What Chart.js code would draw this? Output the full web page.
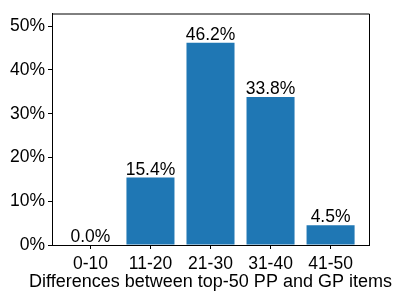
<!DOCTYPE html>
<html>
<head>
<meta charset="utf-8">
<script src="https://cdn.jsdelivr.net/npm/chart.js@4"></script>
<style>
  html, body { margin: 0; padding: 0; background: #fff; }
  #wrap { width: 399px; height: 299px; }
</style>
</head>
<body>
<div id="wrap"><canvas id="chart" width="399" height="299"></canvas></div>
<script>
// chart data
const categories = ["0-10", "11-20", "21-30", "31-40", "41-50"];
const shares = [0.0, 15.4, 46.2, 33.8, 4.5];
const yTicks = [0, 10, 20, 30, 40, 50];
const xTitle = "Differences between top-50 PP and GP items";

const FONT = "'Liberation Sans', Arial, sans-serif";
const BLUE = "#1f77b4";

// value labels above bars, top/right spines, and the x title
// (chart.js squeezes scale titles to the axis width, this one is wider)
const extras = {
    id: "extras",
    afterDatasetsDraw(chart) {
        let ctx = chart.ctx;
        let meta = chart.getDatasetMeta(0);
        let a = chart.chartArea;
        ctx.save();
        ctx.fillStyle = "#000";
        ctx.font = "17.5px " + FONT;
        ctx.textAlign = "center";
        ctx.textBaseline = "alphabetic";
        meta.data.forEach((bar, i) => {
            ctx.fillText(shares[i].toFixed(1) + "%", bar.x, bar.y - 3);
        });
        ctx.font = "18px " + FONT;
        ctx.fillText(xTitle, (a.left + a.right) / 2, 287);

        ctx.strokeStyle = "#000";
        ctx.lineWidth = 1;
        ctx.beginPath();
        ctx.moveTo(a.left, a.top + 0.5);
        ctx.lineTo(a.right + 0.5, a.top + 0.5);
        ctx.lineTo(a.right + 0.5, a.bottom);
        ctx.stroke();
        ctx.restore();
    }
};

new Chart(document.getElementById("chart").getContext("2d"), {
    type: "bar",
    data: {
        datasets: [{
            data: shares.map((v, i) => ({x: i, y: v})),
            backgroundColor: BLUE,
            borderWidth: 0,
            categoryPercentage: 1,
            barPercentage: 0.8
        }]
    },
    options: {
        responsive: false,
        animation: false,
        layout: { padding: { left: 0, top: 8, right: 30, bottom: 0 } },
        plugins: { legend: { display: false }, tooltip: { enabled: false } },
        scales: {
            x: {
                type: "linear",
                offset: false,
                min: -0.64,
                max: 4.64,
                afterBuildTicks: s => { s.ticks = categories.map((c, i) => ({value: i})); },
                afterFit: s => { s.height = 54; },
                ticks: {
                    callback: v => categories[v],
                    color: "#000",
                    font: { family: FONT, size: 17.5 },
                    padding: 5,
                    maxRotation: 0,
                    autoSkip: false
                },
                grid: { offset: false, drawOnChartArea: false, drawTicks: true, tickLength: 4, tickColor: "#000" },
                border: { display: true, color: "#000", width: 1 }
            },
            y: {
                min: 0,
                max: 52.9,
                afterBuildTicks: s => { s.ticks = yTicks.map(v => ({value: v})); },
                afterFit: s => { s.width = 52; },
                ticks: {
                    callback: v => v + "%",
                    color: "#000",
                    font: { family: FONT, size: 17.5 },
                    padding: 3
                },
                grid: { drawOnChartArea: false, drawTicks: true, tickLength: 4, tickColor: "#000" },
                border: { display: true, color: "#000", width: 1 }
            }
        }
    },
    plugins: [extras]
});
</script>
</body>
</html>
